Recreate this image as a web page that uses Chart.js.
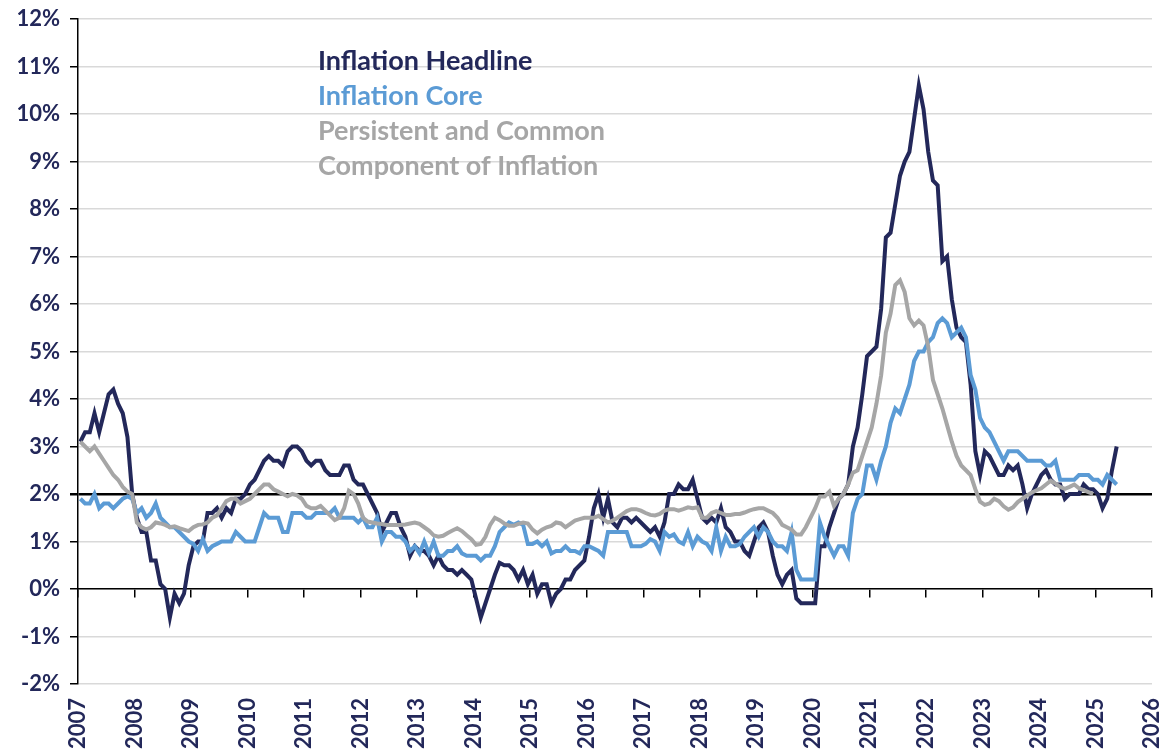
<!DOCTYPE html>
<html>
<head>
<meta charset="utf-8">
<script src="https://cdn.jsdelivr.net/npm/chart.js@4.4.1/dist/chart.umd.min.js"></script>
<style>
  html, body { margin: 0; padding: 0; background: #fff; }
  #wrap { width: 1162px; height: 752px; }
</style>
</head>
<body>
<div id="wrap"><canvas id="inflationChart" width="1162" height="752"></canvas></div>
<script>
// axis range
const firstYear = 2007;
const lastYear = 2026;
const yMin = -2;
const yMax = 12;

// monthly readings, first point sits in the first month of the axis
const headline = [
  3.1, 3.3, 3.3, 3.7, 3.3, 3.7, 4.1, 4.2, 3.9, 3.7,
  3.2, 2.0, 1.5, 1.2, 1.2, 0.6, 0.6, 0.1, 0.0, -0.6,
  -0.1, -0.3, -0.1, 0.5, 0.9, 1.0, 1.0, 1.6, 1.6, 1.7,
  1.5, 1.7, 1.6, 1.9, 1.9, 2.0, 2.2, 2.3, 2.5, 2.7,
  2.8, 2.7, 2.7, 2.6, 2.9, 3.0, 3.0, 2.9, 2.7, 2.6,
  2.7, 2.7, 2.5, 2.4, 2.4, 2.4, 2.6, 2.6, 2.3, 2.2,
  2.2, 2.0, 1.8, 1.6, 1.2, 1.4, 1.6, 1.6, 1.3, 1.1,
  0.7, 0.9, 0.8, 0.8, 0.7, 0.5, 0.7, 0.5, 0.4, 0.4,
  0.3, 0.4, 0.3, 0.2, -0.2, -0.6, -0.3, 0.0, 0.3, 0.55,
  0.5, 0.5, 0.4, 0.2, 0.4, 0.1, 0.3, -0.1, 0.1, 0.1,
  -0.3, -0.1, 0.0, 0.2, 0.2, 0.4, 0.5, 0.6, 1.1, 1.7,
  2.0, 1.5, 1.9, 1.4, 1.3, 1.5, 1.5, 1.4, 1.5, 1.4,
  1.3, 1.2, 1.3, 1.1, 1.4, 2.0, 2.0, 2.2, 2.1, 2.1,
  2.3, 1.9, 1.5, 1.4, 1.5, 1.4, 1.7, 1.3, 1.2, 1.0,
  1.0, 0.8, 0.7, 1.0, 1.3, 1.4, 1.2, 0.7, 0.3, 0.1,
  0.3, 0.4, -0.2, -0.3, -0.3, -0.3, -0.3, 0.9, 0.9, 1.3,
  1.6, 1.9, 2.0, 2.2, 3.0, 3.4, 4.1, 4.9, 5.0, 5.1,
  5.9, 7.4, 7.5, 8.1, 8.7, 9.0, 9.2, 9.9, 10.6, 10.1,
  9.2, 8.6, 8.5, 6.9, 7.0, 6.1, 5.5, 5.3, 5.2, 4.3,
  2.9, 2.4, 2.9, 2.8, 2.6, 2.4, 2.4, 2.6, 2.5, 2.6,
  2.2, 1.7, 2.0, 2.2, 2.4, 2.5, 2.3, 2.2, 2.2, 1.9,
  2.0, 2.0, 2.0, 2.2, 2.1, 2.1, 2.0, 1.7, 1.9, 2.5,
  3.0
];

const core = [
  1.9, 1.8, 1.8, 2.0, 1.7, 1.8, 1.8, 1.7, 1.8, 1.9,
  1.95, 1.9, 1.6, 1.7, 1.5, 1.6, 1.8, 1.5, 1.4, 1.3,
  1.3, 1.2, 1.1, 1.0, 0.95, 0.8, 1.05, 0.8, 0.9, 0.95,
  1.0, 1.0, 1.0, 1.2, 1.1, 1.0, 1.0, 1.0, 1.3, 1.6,
  1.5, 1.5, 1.5, 1.2, 1.2, 1.6, 1.6, 1.6, 1.5, 1.5,
  1.6, 1.6, 1.6, 1.6, 1.7, 1.5, 1.5, 1.5, 1.5, 1.4,
  1.5, 1.3, 1.3, 1.5, 1.0, 1.2, 1.2, 1.1, 1.1, 1.0,
  0.8, 0.9, 0.75, 1.0, 0.75, 1.0, 0.7, 0.7, 0.8, 0.8,
  0.9, 0.75, 0.7, 0.7, 0.7, 0.6, 0.7, 0.7, 0.9, 1.2,
  1.3, 1.4, 1.35, 1.4, 1.35, 0.95, 0.95, 1.0, 0.9, 1.0,
  0.75, 0.8, 0.8, 0.9, 0.8, 0.8, 0.75, 0.9, 0.9, 0.85,
  0.8, 0.7, 1.2, 1.2, 1.2, 1.2, 1.2, 0.9, 0.9, 0.9,
  0.95, 1.05, 1.0, 0.8, 1.2, 1.1, 1.15, 1.0, 0.95, 1.2,
  0.9, 1.1, 1.0, 0.95, 0.8, 1.3, 0.8, 1.1, 0.9, 0.9,
  0.95, 1.1, 1.2, 1.3, 1.1, 1.3, 1.2, 1.0, 0.9, 0.9,
  0.8, 1.2, 0.4, 0.2, 0.2, 0.2, 0.2, 1.4, 1.1, 0.9,
  0.7, 0.9, 0.9, 0.7, 1.6, 1.9, 2.0, 2.6, 2.6, 2.3,
  2.7, 3.0, 3.5, 3.8, 3.7, 4.0, 4.3, 4.8, 5.0, 5.0,
  5.2, 5.3, 5.6, 5.7, 5.6, 5.3, 5.4, 5.5, 5.3, 4.5,
  4.2, 3.6, 3.4, 3.3, 3.1, 2.9, 2.7, 2.9, 2.9, 2.9,
  2.8, 2.7, 2.7, 2.7, 2.7, 2.6, 2.6, 2.7, 2.3, 2.3,
  2.3, 2.3, 2.4, 2.4, 2.4, 2.3, 2.3, 2.2, 2.4, 2.3,
  2.2
];

const persistent = [
  3.1, 3.0, 2.9, 3.0, 2.85, 2.7, 2.55, 2.4, 2.3, 2.15,
  2.05, 2.0, 1.4, 1.3, 1.25, 1.3, 1.4, 1.38, 1.35, 1.3,
  1.32, 1.28, 1.25, 1.22, 1.3, 1.35, 1.36, 1.4, 1.5, 1.55,
  1.7, 1.85, 1.9, 1.9, 1.8, 1.85, 1.9, 2.0, 2.1, 2.2,
  2.2, 2.1, 2.05, 2.0, 1.95, 2.0, 1.97, 1.9, 1.75, 1.7,
  1.7, 1.75, 1.65, 1.55, 1.45, 1.5, 1.7, 2.07, 2.0, 1.8,
  1.5, 1.42, 1.4, 1.38, 1.37, 1.35, 1.35, 1.35, 1.35, 1.36,
  1.38, 1.4, 1.37, 1.3, 1.23, 1.13, 1.1, 1.12, 1.18, 1.23,
  1.28, 1.22, 1.13, 1.05, 0.93, 0.95, 1.1, 1.35, 1.5, 1.45,
  1.38, 1.33, 1.33, 1.37, 1.4, 1.38, 1.25, 1.17, 1.25, 1.3,
  1.33, 1.4, 1.38, 1.3, 1.37, 1.44, 1.47, 1.5, 1.5, 1.5,
  1.54, 1.47, 1.4, 1.44, 1.5, 1.57, 1.64, 1.68, 1.68, 1.65,
  1.6, 1.56, 1.55, 1.58, 1.65, 1.68, 1.68, 1.65, 1.68, 1.72,
  1.7, 1.72, 1.5, 1.5, 1.6, 1.64, 1.6, 1.56, 1.56, 1.58,
  1.58, 1.61, 1.65, 1.68, 1.7, 1.7, 1.65, 1.6, 1.5, 1.35,
  1.3, 1.25, 1.15, 1.15, 1.3, 1.5, 1.7, 1.95, 1.95, 2.05,
  1.75, 1.9, 2.0, 2.2, 2.45, 2.5, 2.8, 3.1, 3.4, 3.9,
  4.5, 5.4, 5.8, 6.4, 6.5, 6.25, 5.7, 5.55, 5.65, 5.55,
  5.1, 4.4, 4.1, 3.8, 3.45, 3.1, 2.8, 2.6, 2.5, 2.4,
  2.1, 1.84, 1.77, 1.8, 1.9, 1.85, 1.74, 1.67, 1.72, 1.83,
  1.9, 1.97, 2.03, 2.08, 2.12, 2.2, 2.28, 2.22, 2.15, 2.11,
  2.15, 2.2, 2.12, 2.08, 2.04, 2.0
];

const seriesLabels = ['Inflation Headline', 'Inflation Core', 'Persistent and Common Component of Inflation'];
const legendLines = [
  ['Inflation Headline', 0],
  ['Inflation Core', 1],
  ['Persistent and Common', 2],
  ['Component of Inflation', 2]
];
const targetLevel = 2;

const navy = '#23285a';
const colors = [navy, '#5b9bd5', '#a6a6a6'];
const fontFamily = 'Lato, "Open Sans", sans-serif';

function toPoints(arr) {
  return arr.map((v, i) => ({ x: firstYear + (i + 0.5) / 12, y: v }));
}

const legendText = {
  id: 'legendText',
  afterDraw(chart) {
    const c = chart.ctx;
    const a = chart.chartArea;
    c.save();
    c.font = 'bold 27px ' + fontFamily;
    c.textBaseline = 'middle';
    c.textAlign = 'left';
    legendLines.forEach((line, k) => {
      c.fillStyle = colors[line[1]];
      c.fillText(line[0], a.left + 240, a.top + 42 + k * 35);
    });
    c.restore();
  }
};

function draw() {
  const ctx = document.getElementById('inflationChart').getContext('2d');
  new Chart(ctx, {
    type: 'line',
    data: {
      datasets: [headline, core, persistent].map((arr, k) => ({
        label: seriesLabels[k],
        data: toPoints(arr),
        borderColor: colors[k],
        backgroundColor: colors[k],
        borderWidth: 4,
        pointRadius: 0,
        tension: 0,
        fill: false,
        order: 3 - k
      }))
    },
    options: {
      responsive: false,
      animation: false,
      devicePixelRatio: 1,
      layout: { padding: { top: 19, right: 10, bottom: 0, left: 0 } },
      plugins: {
        legend: { display: false },
        tooltip: { enabled: false }
      },
      scales: {
        x: {
          type: 'linear',
          min: firstYear,
          max: lastYear,
          afterFit: s => { s.height = 68; s.paddingLeft = 0; s.paddingRight = 0; },
          grid: { display: false },
          border: { display: false },
          ticks: {
            stepSize: 1,
            autoSkip: false,
            minRotation: 90,
            maxRotation: 90,
            padding: 6,
            color: navy,
            font: { family: fontFamily, weight: 'bold', size: 22 },
            callback: v => String(v)
          }
        },
        xZero: {
          axis: 'x',
          type: 'linear',
          min: firstYear,
          max: lastYear,
          position: { y: 0 },
          afterFit: s => { s.paddingLeft = 0; s.paddingRight = 0; },
          ticks: { display: false, stepSize: 1, autoSkip: false },
          grid: { drawOnChartArea: false, drawTicks: true, tickLength: 8, color: '#000', lineWidth: 1.5 },
          border: { color: '#000', width: 1.5 }
        },
        y: {
          min: yMin,
          max: yMax,
          afterFit: s => { s.width = 78; s.paddingTop = 0; s.paddingBottom = 0; },
          ticks: {
            stepSize: 1,
            padding: 10,
            color: navy,
            font: { family: fontFamily, weight: 'bold', size: 22 },
            callback: v => v + '%'
          },
          grid: {
            color: c => c.tick && c.tick.value === targetLevel ? '#000' : '#d9d9d9',
            lineWidth: c => c.tick && c.tick.value === targetLevel ? 2.5 : 1.5,
            tickColor: '#000',
            tickLength: 8
          },
          border: { color: '#000', width: 1.5 }
        }
      }
    },
    plugins: [legendText]
  });
}

if (document.fonts && document.fonts.load) {
  document.fonts.load('bold 22px Lato').then(draw, draw);
} else {
  draw();
}
</script>
</body>
</html>
